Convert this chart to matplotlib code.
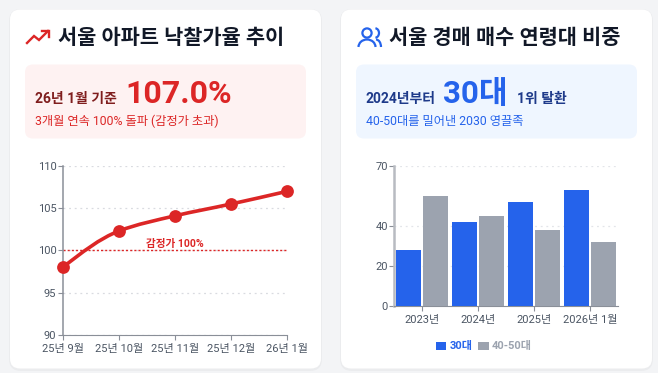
import matplotlib
matplotlib.use('Agg')
from matplotlib import pyplot as plt
from matplotlib.patches import FancyBboxPatch, PathPatch, Circle, Arc
from matplotlib.path import Path
import numpy as np

plt.rcParams['font.family'] = ['Roboto', 'Noto Sans CJK KR', 'DejaVu Sans']

W, H = 658, 373

# left chart
months = ['25년 9월', '25년 10월', '25년 11월', '25년 12월', '26년 1월']
bid_rate = [98.0, 102.3, 104.1, 105.5, 107.0]
rate_ticks = [90, 95, 100, 105, 110]

# right chart
years = ['2023년', '2024년', '2025년', '2026년 1월']
age_30s = [28, 42, 52, 58]
age_40_50s = [55, 45, 38, 32]
share_ticks = [0, 20, 40, 70]

RED = '#dc2626'
BLUE = '#2563eb'
GRAY = '#9ca3af'
TICK = '#4b5563'


def px_axes(x0, y0, x1, y1):
    # axes from pixel box, y counted from the top
    return fig.add_axes([x0 / W, 1 - y1 / H, (x1 - x0) / W, (y1 - y0) / H])


def round_box(x0, y0, x1, y1, r, color, z=1, alpha=1):
    bg.add_patch(FancyBboxPatch((x0 + r, y0 + r), x1 - x0 - 2 * r, y1 - y0 - 2 * r,
                                boxstyle='round,pad=%f,rounding_size=%f' % (r, r),
                                fc=color, ec='none', zorder=z, alpha=alpha))


def smooth_path(xs, ys):
    # monotone cubic through the data points, same idea as d3 curveMonotoneX
    xs = np.array(xs, dtype=float)
    ys = np.array(ys, dtype=float)
    s = np.diff(ys) / np.diff(xs)
    t = np.zeros(len(xs))
    t[1:-1] = 2 * s[:-1] * s[1:] / (s[:-1] + s[1:])
    t[0] = (3 * s[0] - t[1]) / 2
    t[-1] = (3 * s[-1] - t[-2]) / 2
    verts = [(xs[0], ys[0])]
    codes = [Path.MOVETO]
    for i in range(len(xs) - 1):
        h = (xs[i + 1] - xs[i]) / 3
        verts += [(xs[i] + h, ys[i] + t[i] * h), (xs[i + 1] - h, ys[i + 1] - t[i + 1] * h), (xs[i + 1], ys[i + 1])]
        codes += [Path.CURVE4] * 3
    return Path(verts, codes)


fig = plt.figure(figsize=(W / 100, H / 100), dpi=100, facecolor='#f3f4f6')
bg = fig.add_axes([0, 0, 1, 1])
bg.set_xlim(0, W)
bg.set_ylim(H, 0)
bg.axis('off')

# cards
for x0, x1 in [(10, 321), (341, 652)]:
    round_box(x0 - 1, 9, x1 + 1, 371, 12, '#000000', z=1, alpha=0.03)
    round_box(x0, 9.5, x1, 368.5, 10, 'white', z=2)
round_box(25, 64.5, 306, 138.5, 8, '#fef2f2', z=3)
round_box(356, 64.5, 637, 138.5, 8, '#eff6ff', z=3)

# titles
bg.text(58, 44, '서울 아파트 낙찰가율 추이', fontsize=15, fontweight='bold', color='#111827', zorder=5)
bg.text(389, 44, '서울 경매 매수 연령대 비중', fontsize=15, fontweight='bold', color='#111827', zorder=5)

# trending up icon
bg.plot([27, 34, 39, 48], [43, 36, 40, 31], color=RED, lw=1.7, zorder=5, solid_joinstyle='miter')
bg.plot([42, 49, 49], [31, 31, 37], color=RED, lw=1.7, zorder=5, solid_joinstyle='miter')

# users icon
ic = BLUE
bg.add_patch(Circle((367, 33), 4.6, fc='none', ec=ic, lw=1.6, zorder=5))
bg.add_patch(Arc((367, 47), 17, 15, theta1=180, theta2=360, ec=ic, lw=1.6, zorder=5))
bg.add_patch(Arc((375, 33), 8, 9.5, theta1=-85, theta2=85, ec=ic, lw=1.6, zorder=5))
bg.add_patch(Arc((376, 47), 10, 15, theta1=270, theta2=360, ec=ic, lw=1.6, zorder=5))

# insight box left
bg.text(35, 103, '26년 1월 기준', fontsize=10, fontweight='bold', color='#7f1d1d', zorder=5)
bg.text(125, 103, '107.0%', fontsize=23, fontweight='bold', color=RED, zorder=5)
bg.text(35, 125, '3개월 연속 100% 돌파 (감정가 초과)', fontsize=8.8, color=RED, zorder=5)

# insight box right
bg.text(366, 103, '2024년부터', fontsize=10, fontweight='bold', color='#1e3a8a', zorder=5)
bg.text(443, 103, '30대', fontsize=22.5, fontweight='bold', color=BLUE, zorder=5)
bg.text(517, 103, '1위 탈환', fontsize=10, fontweight='bold', color='#1e3a8a', zorder=5)
bg.text(366, 125, '40-50대를 밀어낸 2030 영끌족', fontsize=8.8, color=BLUE, zorder=5)

# line chart
ax = px_axes(62.7, 166, 287, 335)
ax.patch.set_alpha(0)
x = np.arange(len(months))
ax.set_xlim(0, len(months) - 1)
ax.set_ylim(rate_ticks[0], rate_ticks[-1])
ax.set_xticks(x, months)
ax.set_yticks(rate_ticks)
ax.grid(axis='y', color='#d9dbe0', lw=0.9, ls=(0, (1.5, 3)))
ax.set_axisbelow(True)
ax.axhline(100, color=RED, lw=1, ls=(0, (1.5, 1.5)), zorder=2)
ax.add_patch(PathPatch(smooth_path(x, bid_rate), fc='none', ec=RED, lw=2.6, zorder=3, clip_on=False))
ax.plot(x, bid_rate, 'o', color=RED, ms=9.2, mew=0, zorder=4, clip_on=False)
ax.text(2.0, 100.2, '감정가 100%', color=RED, fontsize=7.6, fontweight='bold', ha='center', va='bottom')

# bar chart
ax2 = px_axes(394, 166, 618, 305.7)
ax2.patch.set_alpha(0)
xb = np.arange(len(years))
bw = 0.44
b1 = ax2.bar(xb - 0.245, age_30s, bw, color=BLUE, label='30대', zorder=3)
b2 = ax2.bar(xb + 0.245, age_40_50s, bw, color=GRAY, label='40-50대', zorder=3)
ax2.set_xlim(-0.5, len(years) - 0.5)
ax2.set_ylim(0, 70)
ax2.set_xticks(xb, years)
ax2.set_yticks(share_ticks)
ax2.grid(axis='y', color='#e3e5e9', lw=0.9, ls=(0, (1.5, 3)))
ax2.set_axisbelow(True)

for a, edge in [(ax, '#8a8f98'), (ax2, '#b8bbc1')]:
    a.spines['top'].set_visible(False)
    a.spines['right'].set_visible(False)
    a.spines['left'].set_color(edge)
    a.spines['bottom'].set_color('#8a8f98')
    a.spines['left'].set_linewidth(1.1)
    a.tick_params(axis='both', colors='#8a8f98', labelcolor=TICK, labelsize=8, length=3.5, width=0.8, pad=3)
    a.tick_params(axis='y', pad=1)
ax2.spines['left'].set_linewidth(1.8)

leg = ax2.legend(handles=[b1, b2], ncol=2, frameon=False, loc='center', bbox_to_anchor=(484 / W, 1 - 346.5 / H),
                 bbox_transform=fig.transFigure, fontsize=8, handlelength=0.95, handleheight=0.7, handletextpad=0.3,
                 columnspacing=0.5, borderpad=0)
leg.get_texts()[0].set_color(BLUE)
leg.get_texts()[0].set_fontweight('bold')
leg.get_texts()[1].set_color(GRAY)
leg.get_texts()[1].set_fontweight('bold')

fig.savefig('out.png', dpi=100, facecolor=fig.get_facecolor())
